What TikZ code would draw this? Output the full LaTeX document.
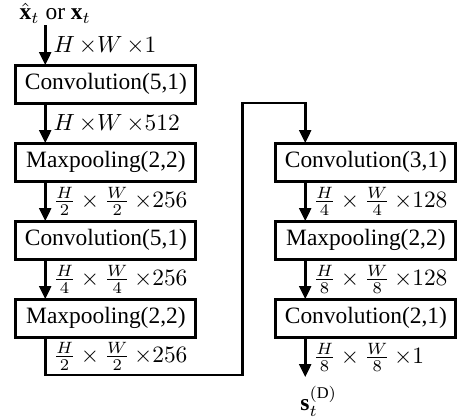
\documentclass[tikz,border=0pt]{standalone}
\usepackage{amsmath,amssymb}
\usepackage{fontspec}
\setmainfont{Liberation Serif}
\usepackage{tikz}
\usetikzlibrary{arrows.meta,positioning,calc}

\begin{document}
\begin{tikzpicture}[
  layer/.style={draw, line width=1.2pt, minimum width=2.7cm, minimum height=0.57cm, inner sep=2pt, outer sep=0pt, align=center},
  arr/.style={line width=1.1pt, -{Triangle[length=5.5pt,width=5pt]}},
  dim/.style={right, inner sep=3pt}
]
  \useasboundingbox (-45.2pt,35.9pt) rectangle (150.7pt,-141.7pt);
  % left column
  \node[layer] (c1) at (0,0) {Convolution(5,1)};
  \node[layer, below=0.6cm of c1] (m1) {Maxpooling(2,2)};
  \node[layer, below=0.6cm of m1] (c2) {Convolution(5,1)};
  \node[layer, below=0.6cm of c2] (m2) {Maxpooling(2,2)};
  % right column
  \node[layer, right=1.2cm of m1] (c3) {Convolution(3,1)};
  \node[layer, below=0.6cm of c3] (m3) {Maxpooling(2,2)};
  \node[layer, below=0.6cm of m3] (c4) {Convolution(2,1)};
  % input and output
  \coordinate[above=0.6cm of c1.north west, xshift=0.44cm] (xin);
  \node[above=0.5pt of xin, xshift=4.3pt, inner sep=0pt] (in) {$\hat{\mathbf{x}}_t$ or $\mathbf{x}_t$};
  \coordinate[below=0.6cm of c4.south west, xshift=0.44cm] (sout);
  \node[below=3.5pt of sout, xshift=5.8pt, inner sep=0pt] (out) {$\mathbf{s}_t^{(\mathrm{D})}$};
  % turn between the columns
  \coordinate[below=0.57cm of m2.south west, xshift=0.44cm] (bl);
  \coordinate[right=0.7cm of m2.east] (mid);
  \coordinate[above=0.6cm of c3.north west, xshift=0.44cm] (tr);

  \draw[arr] (xin) -- node[dim] {$H\,{\times}W\,{\times}1$} ([xshift=0.44cm]c1.north west);
  \draw[arr] ([xshift=0.44cm]c1.south west) -- node[dim] {$H\,{\times}W\,{\times}512$} ([xshift=0.44cm]m1.north west);
  \draw[arr] ([xshift=0.44cm]m1.south west) -- node[dim] {$\frac{H}{2}\times\frac{W}{2}\,{\times}256$} ([xshift=0.44cm]c2.north west);
  \draw[arr] ([xshift=0.44cm]c2.south west) -- node[dim] {$\frac{H}{4}\times\frac{W}{4}\,{\times}256$} ([xshift=0.44cm]m2.north west);
  \draw[arr] ([xshift=0.44cm]m2.south west) -- node[dim] {$\frac{H}{2}\times\frac{W}{2}\,{\times}256$} (bl) -| (mid) |- (tr) -- ([xshift=0.44cm]c3.north west);
  \draw[arr] ([xshift=0.44cm]c3.south west) -- node[dim] {$\frac{H}{4}\times\frac{W}{4}\,{\times}128$} ([xshift=0.44cm]m3.north west);
  \draw[arr] ([xshift=0.44cm]m3.south west) -- node[dim] {$\frac{H}{8}\times\frac{W}{8}\,{\times}128$} ([xshift=0.44cm]c4.north west);
  \draw[arr] ([xshift=0.44cm]c4.south west) -- node[dim] {$\frac{H}{8}\times\frac{W}{8}\,{\times}1$} (sout);
\end{tikzpicture}
\end{document}
